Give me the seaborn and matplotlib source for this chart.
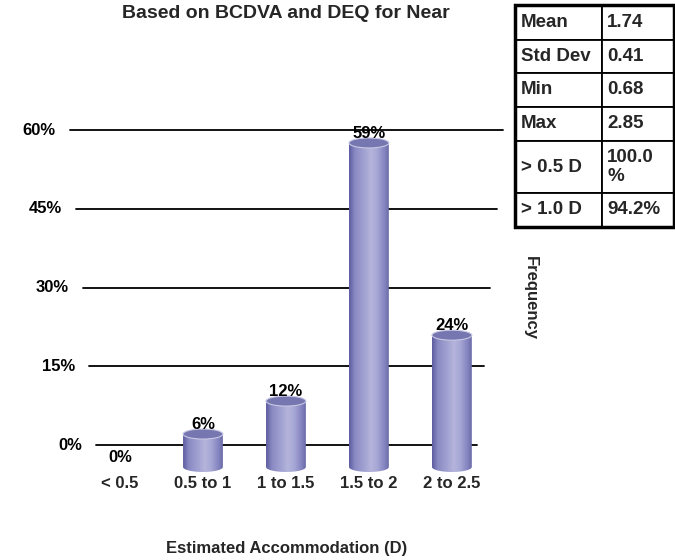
import numpy as np
import pandas as pd
import matplotlib
matplotlib.use("Agg")
import matplotlib.pyplot as plt
import matplotlib.transforms as mtransforms
from matplotlib.colors import LinearSegmentedColormap
from matplotlib.path import Path
from matplotlib.patches import Ellipse, PathPatch, Rectangle
import seaborn as sns

# ---------------- data ----------------
categories = ["< 0.5", "0.5 to 1", "1 to 1.5", "1.5 to 2", "2 to 2.5"]
frequency = [0, 6, 12, 59, 24]
value_labels = ["0%", "6%", "12%", "59%", "24%"]
y_ticks = [0, 15, 30, 45, 60]
y_tick_labels = ["0%", "15%", "30%", "45%", "60%"]
stat_names = ["Mean", "Std Dev", "Min", "Max", "> 0.5 D", "> 1.0 D"]
stat_values = ["1.74", "0.41", "0.68", "2.85", "100.0\n%", "94.2%"]
title = "Based on BCDVA and DEQ for Near"
xlabel = "Estimated Accommodation (D)"
ylabel = "Frequency"

sns.set_theme(style="white")
plt.rcParams["font.family"] = ["Liberation Sans", "DejaVu Sans"]
plt.rcParams["font.weight"] = "bold"

W, H = 675, 560
fig = plt.figure(figsize=(W / 100, H / 100), dpi=100)

def fr(x0, y0, x1, y1):
    return [x0 / W, 1 - y1 / H, (x1 - x0) / W, (y1 - y0) / H]

# main axes (grid plane)
ax = fig.add_axes(fr(60, 110, 505, 475))
ax.set_xlim(-0.723, 4.64)
ax.set_ylim(-5.71, 63.81)
for s in ax.spines.values():
    s.set_visible(False)
ax.set_yticks([])
ax.patch.set_visible(False)

# slanted gridlines (perspective)
blend = mtransforms.blended_transform_factory(ax.transAxes, ax.transData)
for v, lab in zip(y_ticks, y_tick_labels):
    xl = 0.081 - 0.059 * v / 60
    xr = 0.937 + 0.059 * v / 60
    ax.plot([xl, xr], [v, v], transform=blend, color="black", lw=1.3, zorder=1)
    ax.annotate(lab, xy=(xl, v), xycoords=blend, xytext=(-14, 0),
                textcoords="offset pixels", ha="right", va="center",
                fontsize=12, fontweight="bold", color="black")

# bar axes (front plane)
ax2 = ax.twinx()
df = pd.DataFrame({"cat": categories, "freq": frequency})
sns.barplot(data=df, x="cat", y="freq", order=categories, ax=ax2,
            width=0.48, color="#9696c8", zorder=3)
ax2.set_xlim(-0.723, 4.64)
ax2.set_ylim(-1.46, 65.0)
ax2.set_yticks([])
ax2.set_xlabel("")
ax2.set_ylabel("")
for s in ax2.spines.values():
    s.set_visible(False)

ax.set_xticks(range(len(categories)))
ax.set_xticklabels(categories, fontsize=12, fontweight="bold")
ax.tick_params(axis="x", length=0, pad=1)

cmap_body = LinearSegmentedColormap.from_list(
    "body", [(0.0, "#5c5ca0"), (0.15, "#8a8ac4"), (0.55, "#b4b4dc"),
             (0.7, "#a8a8d6"), (0.9, "#8282be"), (1.0, "#6a6aa8")])
grad = np.linspace(0, 1, 256).reshape(1, -1)

px_per_unit = 5.49
eh = 10 / px_per_unit  # ellipse height in data units
for p in list(ax2.patches):
    x0, w, h = p.get_x(), p.get_width(), p.get_height()
    p.set_facecolor("none")
    p.set_edgecolor("none")
    if h <= 0:
        continue
    t = np.linspace(np.pi, 2 * np.pi, 40)
    bx = x0 + w / 2 + (w / 2) * np.cos(t)
    by = (eh / 2) * np.sin(t)
    verts = list(zip(bx, by)) + [(x0 + w, h), (x0, h), (bx[0], by[0])]
    codes = [Path.MOVETO] + [Path.LINETO] * (len(verts) - 2) + [Path.CLOSEPOLY]
    clip = PathPatch(Path(verts, codes), transform=ax2.transData,
                     facecolor="none", edgecolor="none")
    ax2.add_patch(clip)
    im = ax2.imshow(grad, extent=[x0, x0 + w, -eh, h], aspect="auto",
                    cmap=cmap_body, zorder=3, origin="lower")
    im.set_clip_path(clip)
    top = Ellipse((x0 + w / 2, h), w, eh, transform=ax2.transData,
                  facecolor="#7676b0", edgecolor="#c8c8e4", lw=0.8, zorder=4)
    ax2.add_patch(top)

ax2.set_xlim(-0.723, 4.64)
ax2.set_ylim(-1.46, 65.0)

for i, (v, lab) in enumerate(zip(frequency, value_labels)):
    ax2.annotate(lab, xy=(i, v), xytext=(0, 2), textcoords="offset pixels",
                 ha="center", va="bottom", fontsize=12, fontweight="bold",
                 color="black", zorder=5)

# texts
fig.text(286 / W, 1 - 13 / H, title, ha="center", va="center",
         fontsize=14, fontweight="bold")
fig.text(287 / W, 1 - 548 / H, xlabel, ha="center", va="center",
         fontsize=12, fontweight="bold")
fig.text(530 / W, 1 - 298 / H, ylabel, ha="center", va="center",
         rotation=-90, fontsize=12, fontweight="bold")

# stats table
axt = fig.add_axes(fr(515, 5, 674, 227))
axt.axis("off")
tbl = axt.table(cellText=[[n, v] for n, v in zip(stat_names, stat_values)],
                cellLoc="left", bbox=[0, 0, 1, 1])
tbl.auto_set_font_size(False)
row_h = [35, 33, 34, 34, 52, 34]
col_w = [87, 72]
for (r, c), cell in tbl.get_celld().items():
    cell.set_height(row_h[r])
    cell.set_width(col_w[c])
    cell.set_linewidth(1.3)
    cell.set_edgecolor("black")
    cell.PAD = 0.07
    cell.get_text().set_fontsize(13.5)
    cell.get_text().set_fontweight("bold")
axt.add_patch(Rectangle((0, 0), 1, 1, transform=axt.transAxes, fill=False,
                        lw=2.5, edgecolor="black", clip_on=False))

fig.savefig("out.png", dpi=100)
